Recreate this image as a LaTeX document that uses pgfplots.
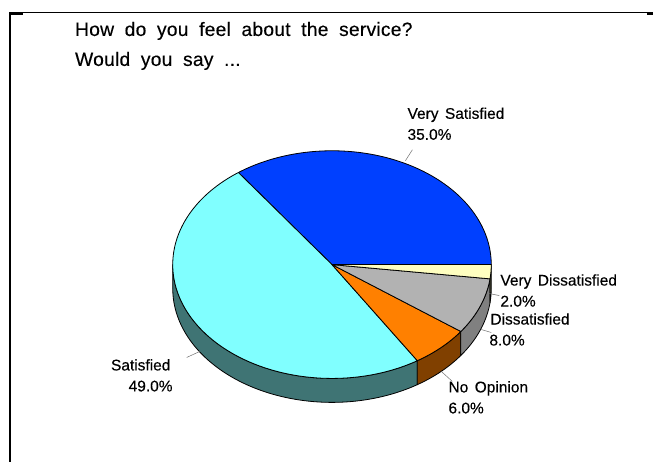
\documentclass[border=0pt]{standalone}
\usepackage{pgfplots}
\pgfplotsset{compat=1.18}
\usepackage{pgfplotstable}
\usepackage{fontspec}
\setmainfont{Liberation Sans}
\newfontface\titlefont[WordSpace=1.9,LetterSpace=1.2,FakeBold=0.25]{Liberation Sans}
\newfontface\labelfont[WordSpace=1.5,FakeBold=0.25]{Liberation Sans}
\definecolor{vsat}{HTML}{0040FF}
\definecolor{sat}{HTML}{80FFFF}
\definecolor{noop}{HTML}{FF8000}
\definecolor{dis}{HTML}{B2B2B2}
\definecolor{vdis}{HTML}{FFFFC0}
\definecolor{satwall}{HTML}{3F7474}
\definecolor{noopwall}{HTML}{804000}
\definecolor{diswall}{HTML}{808080}
\definecolor{vdiswall}{HTML}{808060}
\definecolor{leader}{HTML}{707070}

% Shares in percent, as printed on the labels
\pgfmathsetmacro{\shareVS}{35.0}
\pgfmathsetmacro{\shareS}{49.0}
\pgfmathsetmacro{\shareNO}{6.0}
\pgfmathsetmacro{\shareD}{8.0}
\pgfmathsetmacro{\shareVD}{2.0}
% Cumulative angles of the slice boundaries
\pgfmathsetmacro{\angA}{3.6*\shareVS}
\pgfmathsetmacro{\angB}{\angA+3.6*\shareS}
\pgfmathsetmacro{\angC}{\angB+3.6*\shareNO}
\pgfmathsetmacro{\angD}{\angC+3.6*\shareD}
\pgfmathsetmacro{\angE}{\angD+3.6*\shareVD}

% Ellipse of the pie top
\newcommand{\cx}{332.5}
\newcommand{\cy}{199}
\newcommand{\rx}{159.5}
\newcommand{\ry}{114}
\newcommand{\depth}{24}

% Top face of a slice from angle #1 to #2: the centre, then the arc
\newcommand{\slice}[3]{%
  \addplot[draw=black, line width=0.8pt, fill=#3, line join=round, domain=0:1, samples=151, variable=\s]
    ({\s<0.02 ? \cx : \cx+\rx*cos(#1+(#2-#1)*max(0,(\s-0.03)/0.97))},
     {\s<0.02 ? \cy : \cy+\ry*sin(#1+(#2-#1)*max(0,(\s-0.03)/0.97))}) -- cycle;}
% Rim of a slice: along the top edge, then back along the lower edge
\newcommand{\rim}[3]{%
  \addplot[draw=black, line width=0.8pt, fill=#3, line join=round, domain=0:1, samples=151, variable=\s]
    ({\cx+\rx*cos(\s<0.5 ? #1+(#2-#1)*min(1,\s/0.48) : #2-(#2-#1)*max(0,(\s-0.52)/0.48))},
     {\cy+\ry*sin(\s<0.5 ? #1+(#2-#1)*min(1,\s/0.48) : #2-(#2-#1)*max(0,(\s-0.52)/0.48)) - (\s<0.5 ? 0 : \depth)}) -- cycle;}

\begin{document}
\begin{tikzpicture}
\begin{axis}[
  hide axis, scale only axis, width=654pt, height=464pt,
  xmin=0, xmax=654, ymin=0, ymax=464, clip=false,
  every axis plot/.append style={no markers}
]
% Frame: top rule, left rule and the two short heavier ends of the top rule
\addplot[black, line width=1pt, forget plot] coordinates {(10,451) (654,451)};
\addplot[black, line width=2.4pt, forget plot] coordinates {(10,451.5) (10,1)};
\addplot[black, line width=2pt, forget plot] coordinates {(10,450.2) (23,450.2)};
\addplot[black, line width=2pt, forget plot] coordinates {(648,450.2) (654,450.2)};

% Rim, left to right along the front
\rim{180}{\angB}{satwall}
\rim{\angB}{\angC}{noopwall}
\rim{\angC}{\angD}{diswall}
\rim{\angD}{\angE}{vdiswall}
% Top faces
\slice{0}{\angA}{vsat}
\slice{\angA}{\angB}{sat}
\slice{\angB}{\angC}{noop}
\slice{\angC}{\angD}{dis}
\slice{\angD}{\angE}{vdis}

% Leader lines
\addplot[leader, line width=0.5pt] coordinates {(406,303) (413,314)};
\addplot[leader, line width=0.5pt] coordinates {(490,170) (500,168)};
\addplot[leader, line width=0.5pt] coordinates {(482,134) (492,131)};
\addplot[leader, line width=0.5pt] coordinates {(442,92) (453,82)};
\addplot[leader, line width=0.5pt] coordinates {(200,112) (187,106)};

% Title
\node[anchor=base west, font=\fontsize{19.3}{21}\titlefont, inner sep=0pt] at (axis cs:75,428) {How do you feel about the service?};
\node[anchor=base west, font=\fontsize{19.3}{21}\titlefont, inner sep=0pt] at (axis cs:75,398) {Would you say ...};

% Slice labels
\begin{scope}[every node/.style={font=\fontsize{15.5}{17}\labelfont, inner sep=0pt}]
\node[anchor=base west] at (axis cs:408,345) {Very Satisfied};
\node[anchor=base west] at (axis cs:408,324) {35.0\%};
\node[anchor=base west] at (axis cs:501,178) {Very Dissatisfied};
\node[anchor=base west] at (axis cs:501,157) {2.0\%};
\node[anchor=base west] at (axis cs:491,139) {Dissatisfied};
\node[anchor=base west] at (axis cs:490,118) {8.0\%};
\node[anchor=base west] at (axis cs:449,71) {No Opinion};
\node[anchor=base west] at (axis cs:449,50) {6.0\%};
\node[anchor=base west] at (axis cs:111,93) {Satisfied};
\node[anchor=base east] at (axis cs:173,72) {49.0\%};
\end{scope}
\end{axis}
\useasboundingbox (0,0) rectangle (654pt,464pt);
\end{tikzpicture}
\end{document}
